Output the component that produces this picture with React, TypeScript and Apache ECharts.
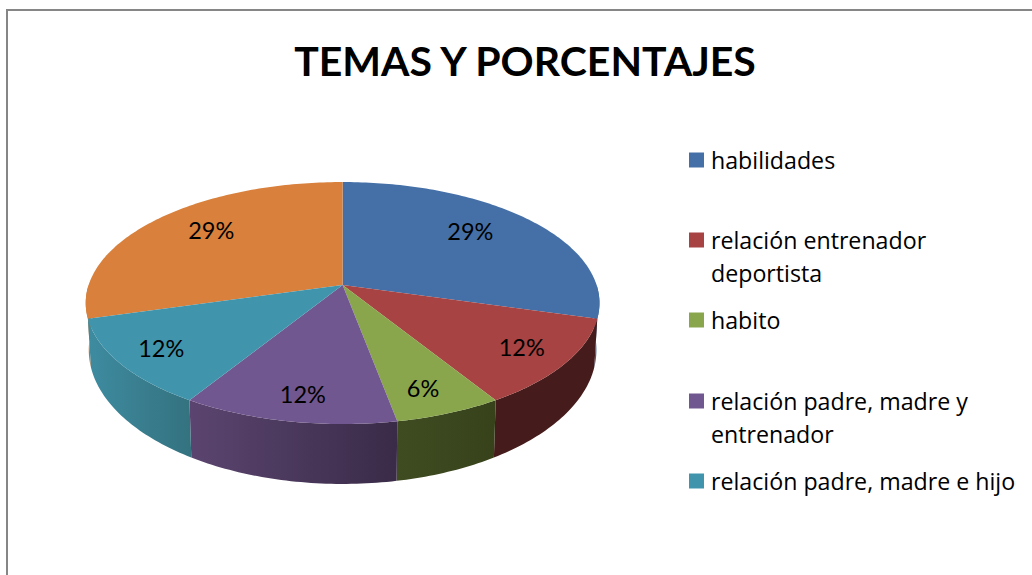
import React, { useEffect, useRef } from "react";
import * as echarts from "echarts";

const titleText = "TEMAS Y PORCENTAJES";
const categories = [
  "habilidades",
  "relación entrenador deportista",
  "habito",
  "relación padre, madre y entrenador",
  "relación padre, madre e hijo",
  "",
];
const counts = [5, 2, 1, 2, 2, 5];
const topColors = ["#4570A7", "#A74342", "#8AA64C", "#71578F", "#4095AD", "#D8803C"];
const sideLeftColors = ["#3D6290", "#451C1B", "#3F4C21", "#5B4570", "#3E8BA0", "#BC7236"];
const sideRightColors = ["#3D6290", "#451C1B", "#37421B", "#3A2B48", "#34727F", "#BC7236"];

// Layout of the projected disc (perspective from the viewer at the front)
const CX = 342.6;
const TOP = { x: 254, y0: 285, b: 118.3 };
const BOTTOM = { x: 251, y0: 330, b: 131 };
const PERSP = 0.149;
const labelRadius = [0.668, 0.819, 0.782, 0.758, 0.828, 0.688];
const labelShift = [-9, -1, 6, 10, -1, -9];
const legendTops = [143.5, 190.5, 303.5, 351.5, 464.5];
const wrappedLegend = [false, true, false, true, false];

const total = counts.reduce((a, b) => a + b, 0);
const startAngle = (i: number) =>
  (counts.slice(0, i).reduce((a, b) => a + b, 0) / total) * Math.PI * 2;

function project(theta: number, r: number, d: { x: number; y0: number; b: number }) {
  const u = Math.sin(theta) * r;
  const v = -Math.cos(theta) * r;
  const w = 1 - PERSP * v;
  return [CX + (d.x * u) / w, d.y0 + (d.b * v) / w];
}

function arc(a0: number, a1: number, d: { x: number; y0: number; b: number }) {
  const n = Math.max(2, Math.ceil(((a1 - a0) * 180) / Math.PI));
  const pts: number[][] = [];
  for (let k = 0; k <= n; k++) pts.push(project(a0 + ((a1 - a0) * k) / n, 1, d));
  return pts;
}

function renderSlice(i: number) {
  return (_params: any, api: any) => {
    const a0 = startAngle(i);
    const a1 = a0 + (api.value(0) / total) * Math.PI * 2;
    const mid = (a0 + a1) / 2;
    const children: any[] = [];
    // Only the front half of the rim can be seen.
    const s0 = Math.max(a0, Math.PI / 2);
    const s1 = Math.min(a1, (Math.PI * 3) / 2);
    if (s1 > s0) {
      const upper = arc(s0, s1, TOP);
      const lower = arc(s0, s1, BOTTOM).reverse();
      children.push({
        type: "polygon",
        shape: { points: upper.concat(lower) },
        style: {
          fill: {
            type: "linear",
            x: 0,
            y: 0,
            x2: 1,
            y2: 0,
            colorStops: [
              { offset: 0, color: sideLeftColors[i] },
              { offset: 1, color: sideRightColors[i] },
            ],
          },
        },
      });
    }
    children.push({
      type: "polygon",
      shape: { points: [[CX, TOP.y0], ...arc(a0, a1, TOP)] },
      style: { fill: topColors[i] },
    });
    const p = project(mid, labelRadius[i], TOP);
    children.push({
      type: "text",
      x: p[0],
      y: p[1] + labelShift[i],
      style: {
        text: `${Math.round((api.value(0) / total) * 100)}%`,
        fill: "#000",
        font: "23.5px Lato",
        align: "center",
        verticalAlign: "middle",
      },
    });
    return { type: "group", children };
  };
}

export default function App() {
  const ref = useRef<HTMLDivElement>(null);
  useEffect(() => {
    const chart = echarts.init(ref.current!, undefined, { renderer: "svg" });
    chart.setOption({
      animation: false,
      backgroundColor: "#fff",
      title: {
        text: titleText,
        left: 520,
        top: 35,
        textAlign: "center",
        textStyle: { fontFamily: "Lato", fontWeight: "bold", fontSize: 41, color: "#000" },
      },
      legend: categories.slice(0, 5).map((name, i) => ({
        data: [name],
        orient: "vertical",
        left: 689,
        top: legendTops[i],
        padding: 0,
        icon: "rect",
        itemWidth: 15,
        itemHeight: 15,
        itemGap: 0,
        selectedMode: false,
        // A blank first line keeps the marker level with the first line of a wrapped name.
        formatter: (n: string) => (wrappedLegend[i] ? `\n${n}` : n),
        textStyle: {
          fontFamily: "Open Sans",
          fontSize: 23.2,
          lineHeight: 33,
          color: "#000",
          width: 320,
          overflow: "break",
          padding: [0, 0, 0, 2],
        },
      })),
      graphic: [
        {
          type: "rect",
          shape: { x: 7, y: 10, width: 1200, height: 800 },
          style: { fill: "none", stroke: "#868686", lineWidth: 2 },
          z: -1,
        },
      ],
      series: counts.map((value, i) => ({
        type: "custom",
        name: categories[i],
        coordinateSystem: "none",
        z: i === 0 || i === 5 ? 1 : 2,
        data: [[value]],
        itemStyle: { color: topColors[i] },
        renderItem: renderSlice(i),
      })),
    });
    return () => chart.dispose();
  }, []);
  return <div ref={ref} style={{ position: "absolute", left: 0, top: 0, width: 1032, height: 575 }} />;
}
